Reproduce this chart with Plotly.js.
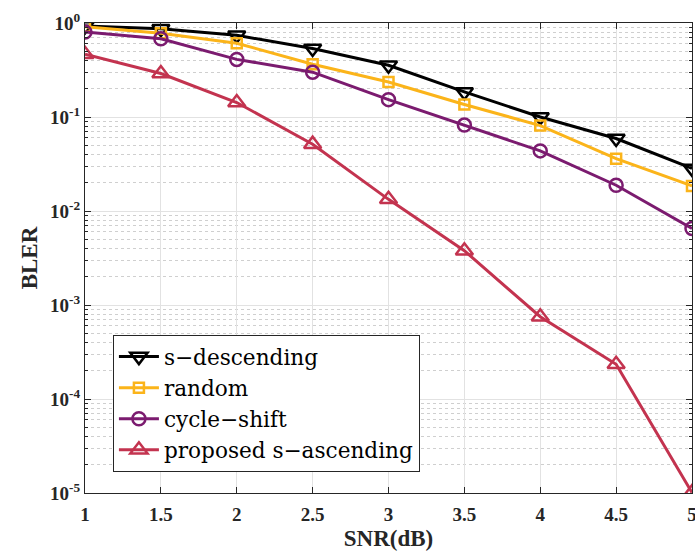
<!DOCTYPE html>
<html>
<head>
<meta charset="utf-8">
<script src="https://cdn.plot.ly/plotly-3.0.1.min.js"></script>
<style>html,body{margin:0;padding:0;background:#fff;}#chart{width:695px;height:554px;}</style>
</head>
<body>
<div id="chart"></div>
<script>
const snr = [1, 1.5, 2, 2.5, 3, 3.5, 4, 4.5, 5];
const sDescending = [0.93, 0.87, 0.74, 0.535, 0.355, 0.185, 0.100, 0.059, 0.0284];
const randomOrder = [0.91, 0.78, 0.61, 0.364, 0.236, 0.136, 0.081, 0.036, 0.0185];
const cycleShift = [0.80, 0.68, 0.41, 0.30, 0.153, 0.082, 0.0436, 0.0188, 0.00653];
const proposedAscending = [0.465, 0.29, 0.1425, 0.0514, 0.0133, 0.00378, 0.00075, 0.000234, 0.0000101];
const seriesNames = ['s\u2212descending', 'random', 'cycle\u2212shift', 'proposed s\u2212ascending'];
const yTickVals = [1e-5, 1e-4, 1e-3, 1e-2, 1e-1, 1];
const yTickText = ['10<sup>-5</sup>', '10<sup>-4</sup>', '10<sup>-3</sup>', '10<sup>-2</sup>', '10<sup>-1</sup>', '10<sup>0</sup>'];
const xTickVals = [1, 1.5, 2, 2.5, 3, 3.5, 4, 4.5, 5];

const minorVals = [];
for (let e = -5; e < 0; e++) { for (let m = 2; m <= 9; m++) minorVals.push(m * Math.pow(10, e)); }

function tr(y, name, color, symbol, size) {
  return {
    x: snr, y: y, name: name, type: 'scatter', mode: 'lines+markers',
    line: {color: color, width: 3},
    marker: {symbol: symbol, size: size, color: color, line: {color: color, width: 2.5}}
  };
}
const data = [
  tr(sDescending, seriesNames[0], '#000000', 'triangle-down-open', 15),
  tr(randomOrder, seriesNames[1], '#FBB41A', 'square-open', 10),
  tr(cycleShift, seriesNames[2], '#7B1B6F', 'circle-open', 13),
  tr(proposedAscending, seriesNames[3], '#C3334F', 'triangle-up-open', 15)
];
const serif = '"Liberation Serif", "Times New Roman", serif';
const legendSerif = '"DejaVu Serif", serif';
const tickFont = {family: serif, size: 19, color: '#262626', weight: 'bold'};
const layout = {
  width: 695, height: 554,
  font: {family: serif},
  margin: {l: 85, r: 3, t: 23, b: 61},
  paper_bgcolor: '#fff', plot_bgcolor: '#fff',
  showlegend: true,
  legend: {
    x: 0.046, y: 0.336, xanchor: 'left', yanchor: 'top',
    bgcolor: '#fff', bordercolor: '#262626', borderwidth: 1,
    font: {family: legendSerif, size: 21.6, color: '#000', weight: 'normal'},
    tracegroupgap: 0, itemwidth: 40
  },
  xaxis: {
    range: [1, 5], tickmode: 'array', tickvals: xTickVals,
    ticktext: xTickVals.map(String),
    ticks: 'inside', ticklen: 6, tickcolor: '#262626',
    showline: true, linecolor: '#262626', linewidth: 1, mirror: 'ticks',
    showgrid: true, gridcolor: '#e2e2e2', gridwidth: 1,
    zeroline: false, tickfont: tickFont, ticklabeloverflow: 'allow', ticklabelstandoff: 4,
    title: {text: 'SNR(dB)', font: {family: serif, size: 23, color: '#262626', weight: 'bold'}, standoff: 6}
  },
  yaxis: {
    type: 'log', range: [-5, 0], tickmode: 'array', tickvals: yTickVals, ticktext: yTickText,
    ticks: 'inside', ticklen: 6, tickcolor: '#262626',
    showline: true, linecolor: '#262626', linewidth: 1, mirror: 'ticks',
    showgrid: true, gridcolor: '#e2e2e2', gridwidth: 1,
    zeroline: false, tickfont: tickFont, ticklabeloverflow: 'allow',
    minor: {tickmode: 'array', tickvals: minorVals, ticks: 'inside', ticklen: 3, tickcolor: '#262626',
            showgrid: true, gridcolor: '#cfcfcf', griddash: 'dot', gridwidth: 1},
    title: {text: 'BLER', font: {family: serif, size: 23, color: '#262626', weight: 'bold'}, standoff: 6}
  }
};
Plotly.newPlot('chart', data, layout, {displayModeBar: false, staticPlot: true});
</script>
</body>
</html>
